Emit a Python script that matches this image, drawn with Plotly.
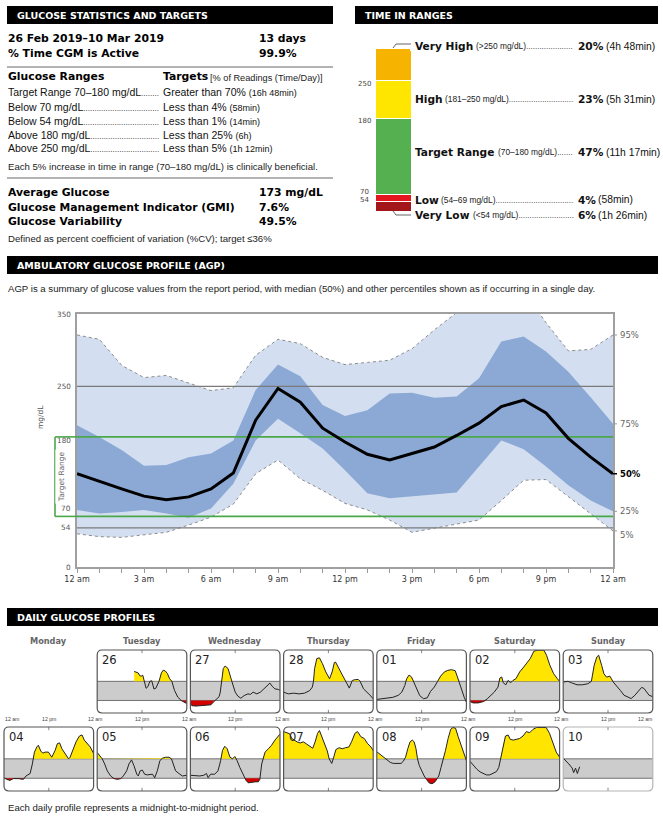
import plotly.graph_objects as go

W, H = 663, 820


def px(x):
    return x / W


def py(y):
    return 1 - y / H


BODY = "Liberation Sans"
HEAD = "DejaVu Sans"

# ---------------- Glucose statistics ----------------
PERIOD = "26 Feb 2019–10 Mar 2019"
PERIOD_DAYS = "13 days"
CGM_ACTIVE = "99.9%"
RANGE_LABELS = ["Target Range 70–180 mg/dL", "Below 70 mg/dL", "Below 54 mg/dL",
                "Above 180 mg/dL", "Above 250 mg/dL"]
RANGE_TARGETS = ["Greater than 70%", "Less than 4%", "Less than 1%", "Less than 25%", "Less than 5%"]
RANGE_TIMES = ["(16h 48min)", "(58min)", "(14min)", "(6h)", "(1h 12min)"]
SUMMARY_LABELS = ["Average Glucose", "Glucose Management Indicator (GMI)", "Glucose Variability"]
SUMMARY_VALUES = ["173 mg/dL", "7.6%", "49.5%"]

# ---------------- Time in ranges (bottom to top) ----------------
TIR_NAMES = ["Very Low", "Low", "Target Range", "High", "Very High"]
TIR_RANGES = ["(<54 mg/dL)", "(54–69 mg/dL)", "(70–180 mg/dL)", "(181–250 mg/dL)", "(>250 mg/dL)"]
TIR_PCT = [6, 4, 47, 23, 20]
TIR_TIMES = ["(1h 26min)", "(58min)", "(11h 17min)", "(5h 31min)", "(4h 48min)"]
TIR_COLORS = ["#a3171b", "#e3151e", "#55b04f", "#ffe600", "#f6b400"]
TIR_BOUNDS = ["54", "70", "180", "250"]

# ---------------- Ambulatory glucose profile (hourly percentiles) ----------------
AGP_HOURS = list(range(25))
AGP_P95 = [321, 315, 279, 262, 265, 254, 244, 248, 293, 315, 309, 290, 280, 283, 286, 302,
           328, 352, 375, 385, 382, 338, 299, 301, 321]
AGP_P75 = [196, 180, 162, 140, 141, 152, 157, 175, 245, 280, 264, 224, 209, 217, 240, 241,
           234, 236, 261, 312, 319, 298, 270, 235, 198]
AGP_P50 = [129, 118, 108, 98, 93, 97, 108, 130, 203, 247, 228, 192, 173, 156, 148, 157,
           166, 182, 199, 222, 231, 213, 178, 152, 129]
AGP_P25 = [79, 74, 76, 79, 74, 68, 81, 115, 175, 205, 185, 164, 134, 102, 95, 98,
           101, 103, 139, 175, 163, 139, 113, 92, 77]
AGP_P5 = [46, 42, 41, 44, 48, 58, 69, 87, 129, 148, 122, 106, 88, 79, 65, 48,
          54, 59, 65, 92, 120, 121, 97, 74, 50]
AGP_TICKS = ["12 am", "", "", "3 am", "", "", "6 am", "", "", "9 am", "", "", "12 pm", "", "",
             "3 pm", "", "", "6 pm", "", "", "9 pm", "", "", "12 am"]
AGP_Y_LABELS = [350, 250, 180, 70, 54, 0]
AGP_GRAY_LINES = [250, 54]
AGP_GREEN_LINES = [180, 70]
PCT_LABELS = ["95%", "75%", "50%", "25%", "5%"]

# ---------------- Daily glucose profiles: (hour, mg/dL) ----------------
WEEKDAYS = ["Monday", "Tuesday", "Wednesday", "Thursday", "Friday", "Saturday", "Sunday"]
DAY_NUMBERS = ["26", "27", "28", "01", "02", "03", "04", "05", "06", "07", "08", "09", "10"]

FEB_26 = [(9.9, 237), (10.6, 233), (11.0, 228), (11.4, 212), (11.8, 210), (12.2, 215), (12.6, 185),
          (13.1, 140), (13.6, 150), (14.1, 180), (14.6, 183), (15.2, 136), (15.7, 140), (16.1, 160),
          (16.6, 182), (17.2, 229), (17.7, 244), (18.2, 240), (18.8, 225), (19.4, 195), (20.0, 180),
          (20.7, 128), (21.6, 89), (22.5, 70), (23.4, 58), (24.0, 52)]
FEB_27 = [(0, 52), (0.4, 40), (1.5, 38), (3, 40), (4.5, 42), (5.5, 45), (6.2, 62), (6.7, 72),
          (7.2, 85), (7.7, 92), (8.0, 118), (8.4, 195), (8.8, 253), (9.3, 268), (10.1, 253),
          (11.1, 180), (12.0, 118), (12.7, 95), (13.5, 83), (14.4, 98), (15.4, 108), (16.1, 105),
          (16.8, 118), (17.8, 108), (18.75, 118), (19.7, 137), (20.7, 160), (21.3, 170),
          (21.9, 152), (22.6, 137), (23.6, 133), (24, 128)]
FEB_28 = [(0, 118), (1.25, 108), (2.7, 112), (4.1, 108), (5.6, 112), (7.0, 127), (7.7, 147),
          (8.0, 180), (8.3, 253), (8.9, 311), (9.6, 315), (10.4, 282), (11.3, 234), (12.3, 195),
          (13.0, 234), (13.6, 288), (13.9, 291), (14.7, 257), (15.7, 214), (16.6, 180),
          (17.6, 141), (18.4, 185), (19.0, 189), (20.0, 191), (20.5, 180), (21.4, 137),
          (22.4, 118), (23.4, 95), (24, 79)]
MAR_01 = [(0, 76), (1.4, 80), (2.9, 85), (4.3, 88), (5.8, 100), (6.7, 118), (7.5, 156), (8.0, 195),
          (8.65, 216), (9.3, 205), (9.9, 176), (10.6, 137), (11.5, 98), (12.5, 80), (13.5, 85),
          (14.4, 122), (15.4, 147), (16.3, 180), (17.1, 210), (18.1, 234), (19.0, 243),
          (20.0, 247), (21.0, 241), (21.6, 205), (22.6, 137), (23.4, 89), (24, 60)]
MAR_02 = [(0, 64), (0.8, 56), (2.2, 56), (3.65, 64), (4.6, 79), (5.6, 98), (6.5, 118), (7.5, 147),
          (8.0, 199), (8.5, 205), (8.9, 172), (9.6, 160), (10.2, 185), (10.9, 172), (11.5, 185),
          (12.3, 195), (13.3, 234), (14.2, 257), (15.2, 282), (16.15, 311), (17.1, 353),
          (18.1, 359), (19.8, 359), (20.5, 330), (21.4, 272), (22.4, 224), (23.4, 195), (24, 180)]
MAR_03 = [(0, 176), (1.26, 180), (2.2, 172), (3.7, 160), (5.1, 160), (6.6, 166), (7.55, 180),
          (8.3, 272), (9.0, 320), (9.5, 330), (10.3, 272), (10.9, 224), (11.6, 204), (12.5, 210),
          (13.4, 176), (14.3, 150), (15.3, 128), (16.3, 100), (17.2, 89), (18.2, 81), (19.2, 100),
          (20.1, 125), (21.0, 145), (21.6, 140), (22.3, 118), (23.0, 100), (24, 92)]
MAR_04 = [(0, 73), (0.7, 64), (1.6, 58), (2.5, 68), (3.85, 68), (5.2, 64), (5.9, 83), (7.0, 97),
          (7.6, 151), (8.15, 218), (8.8, 247), (9.2, 257), (9.85, 224), (10.4, 212), (11.0, 218),
          (11.9, 218), (12.8, 189), (13.7, 228), (14.3, 266), (14.9, 270), (15.5, 237),
          (16.4, 205), (17.3, 180), (17.7, 189), (18.4, 228), (19.3, 276), (20.2, 309),
          (20.9, 315), (21.5, 286), (22.4, 266), (23.1, 247), (24, 210)]
MAR_05 = [(0, 216), (0.6, 199), (1.35, 180), (2.0, 151), (2.7, 112), (3.6, 83), (4.5, 68), (5.4, 64),
          (6.3, 68), (7.0, 83), (7.9, 112), (8.5, 151), (9.2, 174), (9.85, 141), (10.6, 93),
          (11.0, 83), (11.5, 112), (12.1, 116), (12.7, 93), (13.4, 89), (14.1, 89), (14.8, 93),
          (15.4, 73), (16.1, 112), (16.8, 170), (17.5, 184), (18.35, 189), (19.25, 189),
          (19.9, 180), (20.4, 151), (21.0, 112), (21.9, 97), (22.8, 83), (24, 87)]
MAR_06 = [(0, 87), (1.2, 83), (2.5, 83), (3.6, 87), (4.3, 97), (4.75, 73), (5.4, 93), (6.5, 93),
          (7.4, 112), (8.1, 170), (8.6, 228), (9.2, 251), (9.85, 237), (10.6, 189), (11.3, 180),
          (11.9, 193), (12.5, 170), (13.25, 131), (14.1, 93), (14.9, 58), (15.5, 44), (16.4, 48),
          (17.3, 50), (18.2, 50), (18.6, 64), (19.1, 151), (19.5, 189), (20.0, 218), (20.9, 237),
          (21.75, 257), (22.65, 286), (23.5, 309), (24, 320)]
MAR_07 = [(0, 334), (0.9, 328), (1.6, 322), (2.2, 295), (2.85, 286), (3.6, 276), (4.45, 270),
          (5.3, 276), (6.2, 263), (7.1, 247), (7.8, 240), (8.45, 276), (9.1, 324), (9.6, 340),
          (10.2, 309), (11.1, 266), (11.7, 225), (12.2, 180), (12.9, 154), (13.3, 180),
          (14.0, 232), (14.85, 243), (15.7, 237), (16.6, 243), (17.5, 247), (18.2, 276),
          (19.1, 324), (19.8, 334), (20.7, 305), (21.6, 295), (22.5, 266), (23.4, 247), (24, 226)]
MAR_08 = [(0, 220), (0.9, 205), (1.8, 189), (2.7, 174), (3.6, 160), (4.4, 154), (5.3, 154),
          (6.5, 154), (7.1, 166), (7.7, 189), (8.3, 237), (8.9, 276), (9.5, 286), (10.0, 276),
          (10.5, 237), (10.9, 180), (11.4, 141), (12.0, 112), (12.7, 83), (13.3, 64), (14.0, 44),
          (14.8, 39), (15.6, 50), (16.3, 73), (16.6, 83), (17.2, 131), (17.8, 174), (18.4, 228),
          (19.1, 295), (19.8, 347), (20.4, 357), (21.1, 353), (21.8, 305), (22.7, 247),
          (23.4, 199), (24, 170)]
MAR_09 = [(0, 166), (0.9, 141), (1.8, 122), (2.7, 106), (3.6, 97), (4.4, 89), (5.3, 89), (6.2, 97),
          (7.1, 108), (7.7, 131), (8.3, 189), (8.9, 266), (9.5, 309), (10.2, 315), (10.8, 290),
          (11.6, 286), (12.4, 290), (13.3, 295), (14.2, 309), (15.1, 334), (16.0, 328),
          (16.9, 347), (17.8, 357), (19.1, 357), (20.4, 357), (21.3, 324), (22.2, 266),
          (23.1, 218), (24, 189)]
MAR_10 = [(0.1, 182), (0.9, 166), (1.5, 151), (2.0, 138), (2.4, 128), (2.8, 102), (3.3, 127),
          (3.8, 97), (4.4, 135)]
DAILY = [FEB_26, FEB_27, FEB_28, MAR_01, MAR_02, MAR_03, MAR_04, MAR_05, MAR_06,
         MAR_07, MAR_08, MAR_09, MAR_10]

LOW, HIGH = 70, 180

# ---------------- approximate glyph widths (em) for layout of leaders ----------------
_ARIAL = {" ": .278, "%": .889, "(": .333, ")": .333, "-": .333, ".": .278, "/": .278, "–": .556,
          "<": .584, ">": .584, "[": .278, "]": .278, "A": .667, "B": .667, "D": .722, "L": .556,
          "R": .722, "T": .611, "a": .556, "b": .556, "c": .5, "d": .556, "e": .556, "f": .278,
          "g": .556, "h": .556, "i": .222, "l": .222, "m": .833, "n": .556, "o": .556, "p": .556,
          "r": .333, "s": .5, "t": .278, "u": .556, "v": .5, "w": .722, "y": .5}
_DJB = {" ": .348, "%": 1.002, ".": .380, "H": .837, "L": .637, "R": .770, "T": .682, "V": .774,
        "a": .675, "e": .678, "g": .716, "h": .712, "i": .343, "n": .712, "o": .687, "r": .493,
        "t": .478, "w": .924, "y": .652}


def width_arial(s, size):
    return sum(_ARIAL.get(ch, .556) for ch in s) * size


def width_djb(s, size):
    return sum(_DJB.get(ch, .696) for ch in s) * size


def esc(s):
    return s.replace("<", "&lt;").replace(">", "&gt;")


fig = go.Figure()
ann = []
shp = []


def add_text(t, x, y, size, color="#111", family=BODY, xanchor="left", yanchor="middle", **kw):
    d = dict(text=t, x=px(x), y=py(y), xref="paper", yref="paper", xanchor=xanchor,
             yanchor=yanchor, showarrow=False, font=dict(size=size, color=color, family=family),
             borderpad=0)
    d.update(kw)
    ann.append(d)


def hline(x0, x1, y, color, width):
    shp.append(dict(type="line", xref="paper", yref="paper", x0=px(x0), x1=px(x1), y0=py(y), y1=py(y),
                    line=dict(color=color, width=width)))


def header(label, x0, x1, y0, y1):
    shp.append(dict(type="rect", xref="paper", yref="paper", x0=px(x0), x1=px(x1), y0=py(y1), y1=py(y0),
                    fillcolor="#000", line=dict(width=0)))
    add_text(f"<b>{label}</b>", x0 + 9, (y0 + y1) / 2, 9.5, "#fff", HEAD)


def rounded(x0, y0, x1, y1, r):
    rx, ry = r / W, r / H
    a, b, c, d = px(x0), py(y0), px(x1), py(y1)
    return (f"M {a+rx},{b} L {c-rx},{b} Q {c},{b} {c},{b-ry} L {c},{d+ry} Q {c},{d} {c-rx},{d} "
            f"L {a+rx},{d} Q {a},{d} {a},{d+ry} L {a},{b-ry} Q {a},{b} {a+rx},{b} Z")


def dots(start, end, size=8):
    n = max(0, int((end - start) / (0.278 * size)))
    return f"<span style='font-size:{size}px'>{'.' * n}</span>"


BOLD = 10.8
# ============ GLUCOSE STATISTICS AND TARGETS ============
header("GLUCOSE STATISTICS AND TARGETS", 7, 333, 6, 24)
add_text(f"<b>{PERIOD}</b>", 7, 38, BOLD, "#000", HEAD)
add_text(f"<b>{PERIOD_DAYS}</b>", 258, 38, BOLD, "#000", HEAD)
add_text("<b>% Time CGM is Active</b>", 7, 53, BOLD, "#000", HEAD)
add_text(f"<b>{CGM_ACTIVE}</b>", 258, 53, BOLD, "#000", HEAD)
hline(7, 333, 67, "#9a9a9a", 1.5)
add_text("<b>Glucose Ranges</b>", 7, 77, BOLD, "#000", HEAD)
add_text("<b>Targets</b>", 162, 77, BOLD, "#000", HEAD)
add_text("[% of Readings (Time/Day)]", 209, 78, 9.2, "#222")
ROW_Y = [92, 107, 121, 135, 148]
for lab, tgt, tm, y in zip(RANGE_LABELS, RANGE_TARGETS, RANGE_TIMES, ROW_Y):
    end = 7 + width_arial(lab, 10.5) + 1
    add_text(lab + dots(end, 161), 7, y, 10.5, "#111")
    add_text(f"{tgt} <span style='font-size:9px'>{tm}</span>", 162, y, 10.5, "#111")
add_text("Each 5% increase in time in range (70–180 mg/dL) is clinically beneficial.", 7, 167, 9.6, "#222")
hline(7, 333, 178, "#9a9a9a", 1.5)
for lab, val, y in zip(SUMMARY_LABELS, SUMMARY_VALUES, [192, 207, 221]):
    add_text(f"<b>{lab}</b>", 7, y, BOLD, "#000", HEAD)
    add_text(f"<b>{val}</b>", 258, y, BOLD, "#000", HEAD)
add_text("Defined as percent coefficient of variation (%CV); target ≤36%", 7, 238, 9.6, "#222")

# ============ TIME IN RANGES ============
header("TIME IN RANGES", 355, 658, 6, 24)
for name, pct, col in zip(TIR_NAMES, TIR_PCT, TIR_COLORS):
    fig.add_trace(go.Bar(x=[0], y=[pct], width=1, marker=dict(color=col, line=dict(color="#fff", width=1)),
                         xaxis="x2", yaxis="y2", hoverinfo="skip", showlegend=False, name=name))
cum = [sum(TIR_PCT[:i]) for i in range(len(TIR_PCT) + 1)]
bound_shift = [1, 3, -3, -3]
for lab, yv, sh in zip(TIR_BOUNDS, cum[1:5], bound_shift):
    ann.append(dict(text=lab, x=px(364), y=yv, xref="paper", yref="y2", xanchor="center", yanchor="middle",
                    yshift=sh, showarrow=False, font=dict(size=7, color="#444", family=HEAD)))
label_y = [cum[0], (cum[1] + cum[2]) / 2, (cum[2] + cum[3]) / 2, (cum[3] + cum[4]) / 2, cum[5]]
label_shift = [-4, -2, 4, 0, 2]
NAME_SIZE, RANGE_SIZE, PCT_SIZE, TIME_SIZE = 10.6, 8.4, 10.6, 10.3
for name, rng, pct, tm, yv, sh in zip(TIR_NAMES, TIR_RANGES, TIR_PCT, TIR_TIMES, label_y, label_shift):
    common = dict(y=yv, xref="paper", yref="y2", yanchor="middle", yshift=sh, showarrow=False,
                  borderpad=0, xanchor="left")
    ann.append(dict(text=f"<b>{name}</b>", x=px(414), font=dict(size=NAME_SIZE, color="#111", family=HEAD),
                    **common))
    rx = 414 + width_djb(name, NAME_SIZE) + 2.5
    rend = rx + width_arial(rng, RANGE_SIZE) + 1
    ann.append(dict(text=esc(rng) + dots(rend, 575), x=px(rx),
                    font=dict(size=RANGE_SIZE, color="#222", family=BODY), **common))
    pct_txt = f"{pct}%"
    ann.append(dict(text=f"<b>{pct_txt}</b>", x=px(577), font=dict(size=PCT_SIZE, color="#111", family=HEAD),
                    **common))
    tx = 577 + width_djb(pct_txt, PCT_SIZE) + 2.5
    ann.append(dict(text=tm, x=px(tx), font=dict(size=TIME_SIZE, color="#111", family=BODY), **common))
shp.append(dict(type="path", xref="paper", yref="paper", line=dict(color="#666", width=1),
                path=f"M {px(393)},{py(48)} L {px(396)},{py(44)} L {px(411)},{py(44)}"))
shp.append(dict(type="path", xref="paper", yref="paper", line=dict(color="#666", width=1),
                path=f"M {px(393)},{py(211)} L {px(396)},{py(215)} L {px(411)},{py(215)}"))

# ============ AGP ============
header("AMBULATORY GLUCOSE PROFILE (AGP)", 7, 658, 256, 274)
add_text("AGP is a summary of glucose values from the report period, with median (50%) and other "
         "percentiles shown as if occurring in a single day.", 7, 288, 9.6, "#222")
LIGHT, DARK = "#d3dff0", "#8ca9d5"
fig.add_trace(go.Scatter(x=AGP_HOURS, y=AGP_P5, mode="lines", line=dict(width=0), hoverinfo="skip", showlegend=False))
fig.add_trace(go.Scatter(x=AGP_HOURS, y=AGP_P95, mode="lines", line=dict(width=0), fill="tonexty",
                         fillcolor=LIGHT, hoverinfo="skip", showlegend=False))
fig.add_trace(go.Scatter(x=AGP_HOURS, y=AGP_P25, mode="lines", line=dict(width=0), hoverinfo="skip", showlegend=False))
fig.add_trace(go.Scatter(x=AGP_HOURS, y=AGP_P75, mode="lines", line=dict(width=0), fill="tonexty",
                         fillcolor=DARK, hoverinfo="skip", showlegend=False))
for series in (AGP_P5, AGP_P95):
    fig.add_trace(go.Scatter(x=AGP_HOURS, y=series, mode="lines", line=dict(color="#8c8c8c", width=1, dash="dot"),
                             hoverinfo="skip", showlegend=False))
for yv in AGP_GRAY_LINES:
    fig.add_trace(go.Scatter(x=[0, 24], y=[yv, yv], mode="lines", line=dict(color="#7a7a7a", width=1.2),
                             hoverinfo="skip", showlegend=False))
for yv in AGP_GREEN_LINES:
    fig.add_trace(go.Scatter(x=[0, 24], y=[yv, yv], mode="lines", line=dict(color="#4aa84a", width=1.6),
                             hoverinfo="skip", showlegend=False))
    shp.append(dict(type="line", xref="paper", yref="y", x0=px(55), x1=px(77), y0=yv, y1=yv,
                    line=dict(color="#4aa84a", width=1.6)))
shp.append(dict(type="line", xref="paper", yref="y", x0=px(55), x1=px(55), y0=AGP_GREEN_LINES[1],
                y1=AGP_GREEN_LINES[0], line=dict(color="#4aa84a", width=1.6)))
fig.add_trace(go.Scatter(x=AGP_HOURS, y=AGP_P50, mode="lines", line=dict(color="#000", width=3),
                         hoverinfo="skip", showlegend=False))
ylab_shift = {180: -4, 70: 8}
for v in AGP_Y_LABELS:
    ann.append(dict(text=str(v), x=px(73), y=v, xref="paper", yref="y", xanchor="right", yanchor="middle",
                    yshift=ylab_shift.get(v, 0), showarrow=False, font=dict(size=7.3, color="#555", family=HEAD)))
ann.append(dict(text="Target Range", x=px(55), y=sum(AGP_GREEN_LINES) / 2, xref="paper", yref="y",
                textangle=-90, showarrow=False, bgcolor="#ffffff", borderpad=1,
                font=dict(size=7.5, color="#666", family=HEAD)))
add_text("mg/dL", 40, 417, 7.5, "#555", HEAD, xanchor="center", textangle=-90)
pct_ends = [AGP_P95[-1], AGP_P75[-1], AGP_P50[-1], AGP_P25[-1], AGP_P5[-1]]
pct_shift = [0, 0, 0, 0, -4]
for lab, yv, sh in zip(PCT_LABELS, pct_ends, pct_shift):
    bold = lab == "50%"
    shp.append(dict(type="line", xref="paper", yref="y", x0=px(613), x1=px(617), y0=yv, y1=yv,
                    line=dict(color="#000" if bold else "#999", width=1.5 if bold else 1)))
    ann.append(dict(text=f"<b>{lab}</b>" if bold else lab, x=px(618), y=yv, xref="paper", yref="y",
                    xanchor="left", yanchor="middle", yshift=sh, showarrow=False,
                    font=dict(size=8.5, color="#000" if bold else "#666", family=HEAD)))

# ============ DAILY GLUCOSE PROFILES ============
header("DAILY GLUCOSE PROFILES", 7, 658, 608, 626)
COL_X0 = [4 + 93.2 * c for c in range(7)]
PW = 89.6
ROWS = [(650, 713), (727, 791)]
for c, name in enumerate(WEEKDAYS):
    add_text(f"<b>{name}</b>", COL_X0[c] + PW / 2, 641, 8.2, "#666", HEAD, xanchor="center")
    add_text("12 pm", COL_X0[c] + PW / 2, 719, 5.2, "#444", xanchor="center")
    if c == 0:
        add_text("12 am", COL_X0[0], 719, 5.2, "#444", xanchor="left")
    if c < 6:
        add_text("12 am", (COL_X0[c] + PW + COL_X0[c + 1]) / 2, 719, 5.2, "#444", xanchor="center")
    else:
        add_text("12 am", COL_X0[c] + PW, 719, 5.2, "#444", xanchor="right")


def clipped_polygon(points, thr, above):
    xs, ys = [], []
    for i, (h, v) in enumerate(points):
        if i > 0:
            h0, v0 = points[i - 1]
            if (v0 - thr) * (v - thr) < 0:
                t = (thr - v0) / (v - v0)
                xs.append(h0 + t * (h - h0))
                ys.append(thr)
        xs.append(h)
        ys.append(max(v, thr) if above else min(v, thr))
    return xs + xs[::-1], ys + [thr] * len(xs)


layout_axes = {}
for i, (num, pts) in enumerate(zip(DAY_NUMBERS, DAILY)):
    slot = i + 1
    row, col = slot // 7, slot % 7
    x0, x1 = COL_X0[col], COL_X0[col] + PW
    y0, y1 = ROWS[row]
    n = i + 3
    layout_axes[f"xaxis{n}"] = dict(domain=[px(x0), px(x1)], range=[0, 24], visible=False,
                                    fixedrange=True, anchor=f"y{n}", automargin=False)
    layout_axes[f"yaxis{n}"] = dict(domain=[py(y1), py(y0)], range=[-2, 360], visible=False,
                                    fixedrange=True, anchor=f"x{n}", automargin=False)
    shp.append(dict(type="rect", xref=f"x{n} domain", yref=f"y{n}", x0=0, x1=1, y0=LOW, y1=HIGH,
                    fillcolor="#cccccc", line=dict(width=0), layer="below"))
    for yv in (LOW, HIGH):
        shp.append(dict(type="line", xref=f"x{n} domain", yref=f"y{n}", x0=0, x1=1, y0=yv, y1=yv,
                        line=dict(color="#555", width=0.8), layer="below"))
    for a, b in ((0, 0.05), (0.95, 1)):
        shp.append(dict(type="line", xref=f"x{n}", yref=f"y{n} domain", x0=12, x1=12, y0=a, y1=b,
                        line=dict(color="#888", width=1)))
    hx = [p[0] for p in pts]
    hv = [p[1] for p in pts]
    if max(hv) > HIGH:
        fx, fy = clipped_polygon(pts, HIGH, True)
        fig.add_trace(go.Scatter(x=fx, y=fy, mode="lines", fill="toself", fillcolor="#ffe500",
                                 line=dict(width=0), xaxis=f"x{n}", yaxis=f"y{n}", hoverinfo="skip",
                                 showlegend=False))
    if min(hv) < LOW:
        fx, fy = clipped_polygon(pts, LOW, False)
        fig.add_trace(go.Scatter(x=fx, y=fy, mode="lines", fill="toself", fillcolor="#d40000",
                                 line=dict(width=0), xaxis=f"x{n}", yaxis=f"y{n}", hoverinfo="skip",
                                 showlegend=False))
    fig.add_trace(go.Scatter(x=hx, y=hv, mode="lines", line=dict(color="#222", width=1),
                             xaxis=f"x{n}", yaxis=f"y{n}", hoverinfo="skip", showlegend=False))
    partial = num == DAY_NUMBERS[-1]
    shp.append(dict(type="path", xref="paper", yref="paper", path=rounded(x0, y0, x1, y1, 5),
                    line=dict(color="#b5b5b5" if partial else "#555", width=1.2)))
    add_text(num, x0 + 4, y0 + 10, 11.5, "#222", HEAD)

add_text("Each daily profile represents a midnight-to-midnight period.", 7, 807, 9.6, "#222")

fig.update_layout(
    width=W, height=H, autosize=False,
    margin=dict(l=0, r=0, t=0, b=0, pad=0, autoexpand=False),
    paper_bgcolor="#ffffff", plot_bgcolor="rgba(0,0,0,0)",
    showlegend=False, barmode="stack", barcornerradius=3,
    xaxis=dict(domain=[px(77), px(613)], range=[0, 24], tickvals=AGP_HOURS, ticktext=AGP_TICKS,
               ticks="outside", ticklen=4, tickcolor="#999", showline=True, linecolor="#a0a0a0",
               linewidth=1.5, mirror=True, showgrid=False, zeroline=False, fixedrange=True,
               tickfont=dict(size=8, color="#333", family=HEAD), anchor="y", automargin=False),
    yaxis=dict(domain=[py(567), py(314)], range=[0, 350], showticklabels=False, ticks="",
               showline=True, linecolor="#a0a0a0", linewidth=1.5, mirror=True, showgrid=False,
               zeroline=False, fixedrange=True, anchor="x", automargin=False),
    xaxis2=dict(domain=[px(375), px(411)], range=[-0.5, 0.5], visible=False, fixedrange=True,
                anchor="y2", automargin=False),
    yaxis2=dict(domain=[py(211), py(48)], range=[0, 100], visible=False, fixedrange=True,
                anchor="x2", automargin=False),
    annotations=ann, shapes=shp,
)
fig.update_layout(**layout_axes)
fig.write_html("out.html", config={"displayModeBar": False},
               post_script="document.body.style.margin='0px';")
